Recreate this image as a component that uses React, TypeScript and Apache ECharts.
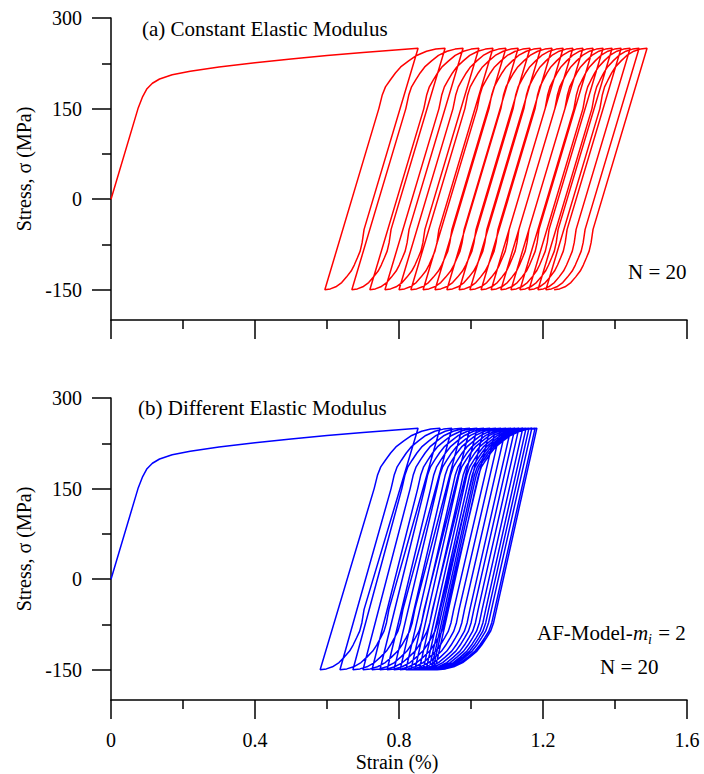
import React, { useEffect, useRef } from "react";
import * as echarts from "echarts";

// ---- Data ----
// Monotonic (first) loading curve, shared by both panels
const monoStrain = [0, 0.075, 0.088, 0.1, 0.115, 0.135, 0.17, 0.22, 0.3, 0.4, 0.5, 0.6, 0.7, 0.853];
const monoStress = [0, 150, 170, 183, 192, 199, 206, 212, 219, 226, 232, 238, 243, 250];

// Panel (a): strain at each peak (250 MPa) and valley (-150 MPa)
const redPeaks = [0.853, 0.928, 0.978, 1.022, 1.061, 1.097, 1.131, 1.164, 1.194, 1.225, 1.256, 1.283, 1.311, 1.339, 1.367, 1.392, 1.417, 1.442, 1.467, 1.489];
const redValleys = [0.594, 0.669, 0.719, 0.761, 0.8, 0.833, 0.867, 0.9, 0.933, 0.967, 0.997, 1.028, 1.056, 1.083, 1.111, 1.136, 1.161, 1.186, 1.208, 1.231];
const redElastic = [0.15, 0.15, 0.15, 0.15, 0.15, 0.15, 0.15, 0.15, 0.15, 0.15, 0.15, 0.15, 0.15, 0.15, 0.15, 0.15, 0.15, 0.15, 0.15, 0.15];

// Panel (b)
const bluePeaks = [0.853, 0.914, 0.947, 0.975, 0.997, 1.017, 1.036, 1.053, 1.069, 1.083, 1.097, 1.111, 1.122, 1.133, 1.144, 1.153, 1.161, 1.169, 1.178, 1.183];
const blueValleys = [0.581, 0.636, 0.672, 0.7, 0.725, 0.747, 0.767, 0.786, 0.803, 0.819, 0.833, 0.844, 0.856, 0.867, 0.875, 0.883, 0.889, 0.894, 0.9, 0.906];
const blueElastic = [0.15, 0.142, 0.136, 0.131, 0.127, 0.124, 0.121, 0.119, 0.117, 0.116, 0.115, 0.114, 0.114, 0.113, 0.113, 0.112, 0.112, 0.112, 0.112, 0.112];

// Shape of the plastic part of each branch (fraction of span, stress)
const reloadShape = [[0, 150], [0.05, 172], [0.1, 186], [0.17, 197], [0.25, 209], [0.33, 219], [0.45, 229], [0.57, 238], [0.72, 245], [0.86, 248.5], [1, 250]];
const unloadShape = [[0, -50], [0.05, -72], [0.1, -86], [0.17, -97], [0.25, -109], [0.33, -119], [0.45, -129], [0.57, -138], [0.72, -145], [0.86, -148.5], [1, -150]];

const xTicks = ["0", "0.4", "0.8", "1.2", "1.6"];
const yMajorTicks = [-150, 0, 150, 300];
const yMinorTicks = [-75, 75, 225];

const FONT = "'Liberation Serif', 'Times New Roman', serif";

function buildLoops(peaks: number[], valleys: number[], elastic: number[]) {
  const pts: number[][] = monoStrain.map((x, i) => [x, monoStress[i]]);
  for (let i = 0; i < peaks.length; i++) {
    const P = peaks[i];
    const V = valleys[i];
    const e = elastic[i];
    const us = P - e;
    unloadShape.forEach(([f, s]) => pts.push([us + f * (V - us), s]));
    if (i + 1 < peaks.length) {
      const rs = V + e;
      const P2 = peaks[i + 1];
      reloadShape.forEach(([f, s]) => pts.push([rs + f * (P2 - rs), s]));
    }
  }
  return pts;
}

export default function App() {
  const ref = useRef<HTMLDivElement>(null);
  useEffect(() => {
    document.body.style.margin = "0";
    if (!ref.current) return;
    const chart = echarts.init(ref.current, null, { renderer: "svg" });
    const axisLineStyle = { color: "#000", width: 1.5 };
    const mkX = (g: number) => ({
      gridIndex: g,
      type: "value",
      min: 0,
      max: 1.6,
      interval: 0.4,
      axisLine: { show: true, onZero: false, lineStyle: axisLineStyle },
      axisTick: { show: true, length: 19, lineStyle: axisLineStyle },
      minorTick: { show: true, splitNumber: 2, length: 9, lineStyle: axisLineStyle },
      splitLine: { show: false },
      minorSplitLine: { show: false },
      axisLabel: {
        show: g === 1,
        margin: 30,
        fontSize: 20,
        fontFamily: FONT,
        color: "#000",
        formatter: (v: number) => xTicks[Math.round(v / 0.4)] ?? "",
      },
    });
    const mkYMajor = (g: number) => ({
      gridIndex: g,
      type: "value",
      position: "left",
      min: -200,
      max: 300,
      axisLine: { show: true, onZero: false, lineStyle: axisLineStyle },
      axisTick: { show: true, customValues: yMajorTicks, length: 19, lineStyle: axisLineStyle },
      axisLabel: { show: true, customValues: yMajorTicks, margin: 29, fontSize: 20, fontFamily: FONT, color: "#000" },
      splitLine: { show: false },
    });
    const mkYMinor = (g: number) => ({
      gridIndex: g,
      type: "value",
      position: "left",
      offset: 0,
      min: -200,
      max: 300,
      axisLine: { show: false, onZero: false },
      axisTick: { show: true, customValues: yMinorTicks, length: 9, lineStyle: axisLineStyle },
      axisLabel: { show: false },
      splitLine: { show: false },
    });
    const txt = (text: string, x: number, y: number, extra: any = {}) => ({
      type: "text",
      x,
      y,
      style: { text, fontSize: 21, fontFamily: FONT, fill: "#000", verticalAlign: "middle", align: "left", ...extra },
    });
    chart.setOption({
      animation: false,
      grid: [
        { left: 111, top: 18, width: 576, height: 302 },
        { left: 111, top: 398, width: 576, height: 302 },
      ],
      xAxis: [mkX(0), mkX(1)],
      yAxis: [mkYMajor(0), mkYMinor(0), mkYMajor(1), mkYMinor(1)],
      series: [
        {
          type: "line",
          xAxisIndex: 0,
          yAxisIndex: 0,
          data: buildLoops(redPeaks, redValleys, redElastic),
          symbol: "none",
          lineStyle: { color: "#ff0000", width: 1.5 },
        },
        {
          type: "line",
          xAxisIndex: 1,
          yAxisIndex: 2,
          data: buildLoops(bluePeaks, blueValleys, blueElastic),
          symbol: "none",
          lineStyle: { color: "#0000ff", width: 1.5 },
        },
      ],
      graphic: [
        txt("(a) Constant Elastic Modulus", 142, 29),
        txt("(b) Different Elastic Modulus", 138, 408),
        txt("N = 20", 628, 272),
        txt("AF-Model-", 537, 633),
        txt("m", 633, 633, { fontStyle: "italic" }),
        txt("i", 648, 639, { fontStyle: "italic", fontSize: 14 }),
        txt(" = 2", 653, 633),
        txt("N = 20", 600, 667),
        { ...txt("Stress, σ (MPa)", 24, 169, { align: "center", fontSize: 20 }), rotation: Math.PI / 2 },
        { ...txt("Stress, σ (MPa)", 24, 549, { align: "center", fontSize: 20 }), rotation: Math.PI / 2 },
        txt("Strain (%)", 397, 762, { align: "center", fontSize: 20 }),
      ],
    });
    return () => chart.dispose();
  }, []);
  return <div ref={ref} style={{ width: 704, height: 774 }} />;
}
